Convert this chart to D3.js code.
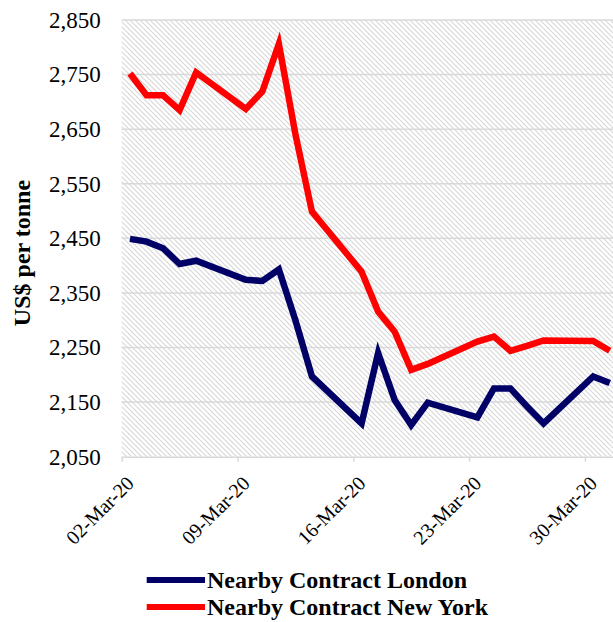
<!DOCTYPE html>
<html>
<head>
<meta charset="utf-8">
<script src="https://cdn.jsdelivr.net/npm/d3@7"></script>
<style>
  html, body { margin: 0; padding: 0; background: #fff; overflow: hidden; }
  svg { display: block; }
  text { font-family: "Liberation Serif", "Times New Roman", serif; fill: #000; }
</style>
</head>
<body>
<script>
// ---- data ----
const dates = ["2020-03-02","2020-03-03","2020-03-04","2020-03-05","2020-03-06",
               "2020-03-09","2020-03-10","2020-03-11","2020-03-12","2020-03-13",
               "2020-03-16","2020-03-17","2020-03-18","2020-03-19","2020-03-20",
               "2020-03-23","2020-03-24","2020-03-25","2020-03-26","2020-03-27",
               "2020-03-30","2020-03-31"];
const london  = [2449,2444,2432,2403,2409, 2374,2372,2393,2300,2197,
                 2111,2240,2154,2108,2149, 2122,2175,2175,2142,2111,
                 2197,2185];
const newYork = [2752,2712,2712,2685,2754, 2687,2719,2806,2641,2499,
                 2389,2316,2279,2209,2220, 2261,2270,2244,2253,2263,
                 2262,2244];
const seriesNames = ["Nearby Contract London", "Nearby Contract New York"];
const seriesColors = ["#000066", "#ff0000"];
const yTicks = [2050,2150,2250,2350,2450,2550,2650,2750,2850];
const xTickDates = ["2020-03-02","2020-03-09","2020-03-16","2020-03-23","2020-03-30"];
const yTitle = "US$ per tonne";

// ---- layout ----
const W = 613, H = 622;
const mL = 121.7, mR = 618, mT = 20, mB = 456.7;

const parse = d3.timeParse("%Y-%m-%d");
const fmt = d3.timeFormat("%d-%b-%y");

const svg = d3.select("body").append("svg").attr("width", W).attr("height", H);

const x = d3.scaleTime()
  .domain([parse("2020-03-02"), parse("2020-04-01")])
  .range([mL, mR]);
const y = d3.scaleLinear().domain([2050, 2850]).range([mB, mT]);

// hatch pattern
const defs = svg.append("defs");
const pat = defs.append("pattern").attr("id", "hatch")
  .attr("patternUnits", "userSpaceOnUse").attr("width", 5).attr("height", 5);
pat.append("path").attr("d", "M-1,-1 L6,6 M-1,4 L1,6 M4,-1 L6,1")
  .attr("stroke", "#d8d8d8").attr("stroke-width", 1.2);

svg.append("rect").attr("x", mL).attr("y", mT)
  .attr("width", mR - mL).attr("height", mB - mT)
  .attr("fill", "url(#hatch)");

// gridlines
svg.append("g").selectAll("line").data(yTicks.slice(1)).join("line")
  .attr("x1", mL).attr("x2", mR)
  .attr("y1", d => y(d)).attr("y2", d => y(d))
  .attr("stroke", "#d9d9d9").attr("stroke-width", 1.5);

// y axis labels
const yAxis = d3.axisLeft(y).tickValues(yTicks).tickFormat(d3.format(",")).tickSize(0).tickPadding(21);
const gy = svg.append("g").attr("transform", `translate(${mL},0)`).call(yAxis);
gy.select(".domain").remove();
gy.selectAll("text").style("font-size", "23px").style("font-family", "Liberation Serif, serif").attr("fill", "#000");

// x axis
const xAxis = d3.axisBottom(x).tickValues(xTickDates.map(parse)).tickFormat(fmt).tickSize(5).tickSizeOuter(0);
const gx = svg.append("g").attr("transform", `translate(0,${mB})`).call(xAxis);
gx.select(".domain").attr("stroke", "#d9d9d9").attr("stroke-width", 1.5);
gx.selectAll(".tick line").attr("stroke", "#d9d9d9").attr("stroke-width", 1.5);
gx.selectAll("text")
  .style("font-size", "20px").style("font-family", "Liberation Serif, serif").attr("fill", "#000")
  .attr("text-anchor", "end")
  .attr("y", 0).attr("dy", "0.35em")
  .attr("transform", "translate(8,23) rotate(-45)");

// lines — points at the middle of each day slot
const mid = d => d3.timeHour.offset(parse(d), 12);
const line = d3.line().x(d => x(mid(d.date))).y(d => y(d.v));
[london, newYork].forEach((vals, i) => {
  const data = dates.map((d, j) => ({date: d, v: vals[j]}));
  svg.append("path").datum(data).attr("d", line)
    .attr("fill", "none").attr("stroke", seriesColors[i])
    .attr("stroke-width", 6.5).attr("stroke-linejoin", "miter");
});

// y title
svg.append("text")
  .attr("transform", `translate(30,253) rotate(-90)`)
  .attr("text-anchor", "middle")
  .style("font-size", "24px").style("font-weight", "bold")
  .text(yTitle);

// legend
const lg = svg.append("g");
seriesNames.forEach((name, i) => {
  const ly = 580 + i * 27;
  lg.append("line").attr("x1", 146.7).attr("x2", 205).attr("y1", ly).attr("y2", ly)
    .attr("stroke", seriesColors[i]).attr("stroke-width", 6);
  lg.append("text").attr("x", 207).attr("y", ly).attr("dy", "0.33em")
    .style("font-size", "24px").style("font-weight", "bold").text(name);
});
</script>
</body>
</html>
